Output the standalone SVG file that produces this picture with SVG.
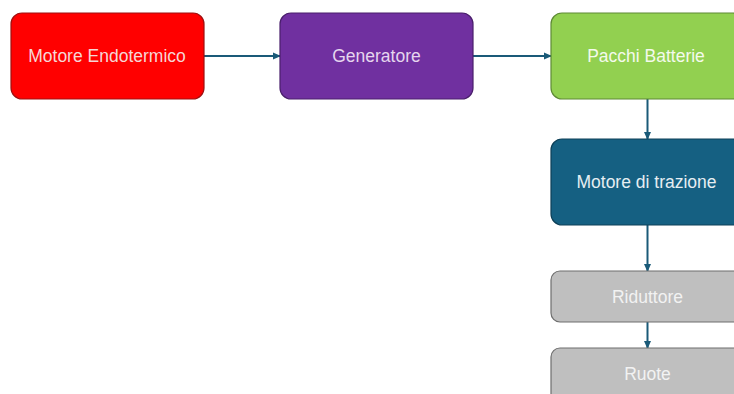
<svg xmlns="http://www.w3.org/2000/svg" width="734" height="394" viewBox="0 0 734 394">
<defs>
<marker id="ah" markerWidth="8" markerHeight="8" refX="7" refY="4" orient="auto" markerUnits="userSpaceOnUse">
<path d="M0,0.5 L8,4 L0,7.5 Z" fill="#1a5a78"/>
</marker>
<style>
.box{stroke-width:1.2}
.lbl{font-family:"Liberation Sans",Arial,sans-serif;font-size:17.5px;fill:#f2f2f2;text-anchor:middle;dominant-baseline:central}
.con{stroke:#1a5a78;stroke-width:2;fill:none;marker-end:url(#ah)}
</style>
</defs>
<rect width="734" height="394" fill="#ffffff"/>
<g id="connectors">
<line class="con" x1="204" y1="56" x2="280" y2="56"/>
<line class="con" x1="473" y1="56" x2="551" y2="56"/>
<line class="con" x1="647.5" y1="99" x2="647.5" y2="139"/>
<line class="con" x1="647.5" y1="225" x2="647.5" y2="271"/>
<line class="con" x1="647.5" y1="322" x2="647.5" y2="348"/>
</g>
<g id="motore-endotermico">
<rect class="box" x="11" y="13" width="193" height="86" rx="11" fill="#ff0000" stroke="#a01010"/>
<text class="lbl" x="107" y="56" style="fill:#f6d6d6">Motore Endotermico</text>
</g>
<g id="generatore">
<rect class="box" x="280" y="13" width="193" height="86" rx="11" fill="#7030a0" stroke="#4a1f6c"/>
<text class="lbl" x="376.5" y="56" style="fill:#e6d6ee">Generatore</text>
</g>
<g id="pacchi-batterie">
<rect class="box" x="551" y="13" width="193" height="86" rx="11" fill="#92d050" stroke="#5e8a35"/>
<text class="lbl" x="646" y="56" style="fill:#f4faec">Pacchi Batterie</text>
</g>
<g id="motore-trazione">
<rect class="box" x="551" y="139" width="193" height="86" rx="11" fill="#156082" stroke="#0e4058"/>
<text class="lbl" x="646.5" y="182" style="fill:#e6eef2">Motore di trazione</text>
</g>
<g id="riduttore">
<rect class="box" x="551" y="271" width="193" height="51" rx="9" fill="#bfbfbf" stroke="#6e6e6e"/>
<text class="lbl" x="647.5" y="296.5" style="fill:#f2f2f2">Riduttore</text>
</g>
<g id="ruote">
<rect class="box" x="551" y="348" width="193" height="60" rx="9" fill="#bfbfbf" stroke="#6e6e6e"/>
<text class="lbl" x="647.5" y="374" style="fill:#f2f2f2">Ruote</text>
</g>
</svg>
